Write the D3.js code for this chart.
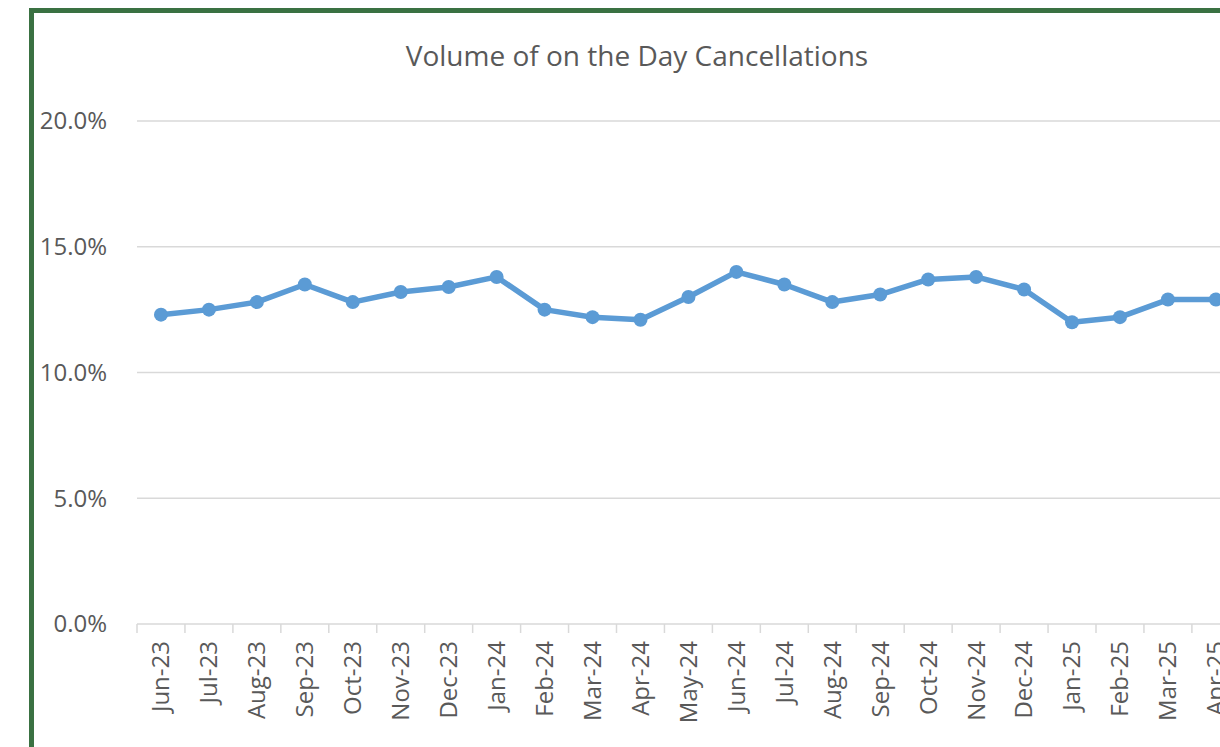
<!DOCTYPE html>
<html>
<head>
<meta charset="utf-8">
<script src="https://cdn.jsdelivr.net/npm/d3@7"></script>
<style>
  html, body { margin: 0; padding: 0; background: #ffffff; overflow: hidden; }
  svg { display: block; }
  text { font-family: "Open Sans", "Noto Sans", sans-serif; fill: #595959; }
</style>
</head>
<body>
<svg id="chart" width="1220" height="747"></svg>
<script>
// Monthly share of appointments cancelled on the day (percent)
const months = ["Jun-23","Jul-23","Aug-23","Sep-23","Oct-23","Nov-23","Dec-23","Jan-24",
  "Feb-24","Mar-24","Apr-24","May-24","Jun-24","Jul-24","Aug-24","Sep-24","Oct-24",
  "Nov-24","Dec-24","Jan-25","Feb-25","Mar-25","Apr-25"];
const cancellationRate = [12.3, 12.5, 12.8, 13.5, 12.8, 13.2, 13.4, 13.8,
  12.5, 12.2, 12.1, 13.0, 14.0, 13.5, 12.8, 13.1, 13.7,
  13.8, 13.3, 12.0, 12.2, 12.9, 12.9];
const yTicks = [0, 5, 10, 15, 20];
const chartTitle = "Volume of on the Day Cancellations";

const svg = d3.select("#chart");

// Frame of the chart area
svg.append("rect")
  .attr("x", 31.5).attr("y", 10.5)
  .attr("width", 1240).attr("height", 800)
  .attr("fill", "#ffffff")
  .attr("stroke", "#3a7142").attr("stroke-width", 5);

const plot = { left: 137, top: 121, bottom: 624, step: 47.95 };

const x = d3.scaleBand()
  .domain(months)
  .range([plot.left, plot.left + months.length * plot.step])
  .paddingInner(0).paddingOuter(0);

const y = d3.scaleLinear().domain([0, 20]).range([plot.bottom, plot.top]);

// Horizontal gridlines
svg.append("g")
  .selectAll("line")
  .data(yTicks.filter(d => d > 0))
  .join("line")
  .attr("x1", plot.left).attr("x2", 1240)
  .attr("y1", d => y(d)).attr("y2", d => y(d))
  .attr("stroke", "#d9d9d9").attr("stroke-width", 1.5);

// Y axis labels
svg.append("g")
  .selectAll("text")
  .data(yTicks)
  .join("text")
  .attr("x", 107).attr("y", d => y(d))
  .attr("dy", "0.35em")
  .attr("text-anchor", "end")
  .attr("font-size", 24)
  .text(d => d.toFixed(1) + "%");

// X axis with boundary tick marks between categories
const xAxis = svg.append("g");
xAxis.append("line")
  .attr("x1", plot.left).attr("x2", 1240)
  .attr("y1", plot.bottom).attr("y2", plot.bottom)
  .attr("stroke", "#d9d9d9").attr("stroke-width", 1.5);
xAxis.selectAll("line.tick")
  .data(months.concat(["__end"]))
  .join("line")
  .attr("class", "tick")
  .attr("x1", (d, i) => plot.left + i * x.step())
  .attr("x2", (d, i) => plot.left + i * x.step())
  .attr("y1", plot.bottom).attr("y2", plot.bottom + 9)
  .attr("stroke", "#d9d9d9").attr("stroke-width", 1.5);
xAxis.selectAll("text")
  .data(months)
  .join("text")
  .attr("transform", d => `translate(${x(d) + x.bandwidth() / 2},${plot.bottom + 17}) rotate(-90)`)
  .attr("text-anchor", "end")
  .attr("dy", "0.35em")
  .attr("font-size", 24)
  .text(d => d);

// Title
svg.append("text")
  .attr("x", 637).attr("y", 56)
  .attr("dy", "0.35em")
  .attr("text-anchor", "middle")
  .attr("font-size", 28)
  .text(chartTitle);

// Line series with markers
const cx = (d, i) => x(months[i]) + x.bandwidth() / 2;
const line = d3.line()
  .x((d, i) => cx(d, i))
  .y(d => y(d));

svg.append("path")
  .datum(cancellationRate)
  .attr("d", line)
  .attr("fill", "none")
  .attr("stroke", "#5b9bd5")
  .attr("stroke-width", 5.5)
  .attr("stroke-linejoin", "round");

svg.append("g")
  .selectAll("circle")
  .data(cancellationRate)
  .join("circle")
  .attr("cx", (d, i) => cx(d, i))
  .attr("cy", d => y(d))
  .attr("r", 7)
  .attr("fill", "#5b9bd5");
</script>
</body>
</html>
